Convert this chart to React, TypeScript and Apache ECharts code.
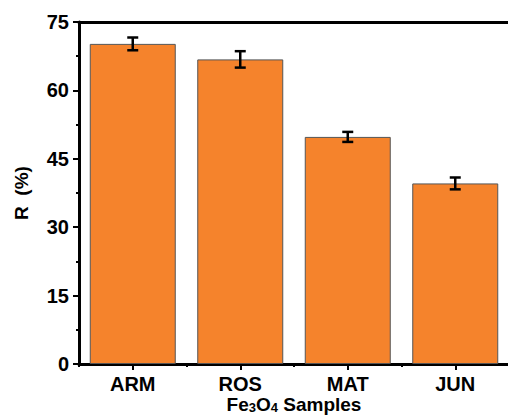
import React, { useEffect, useRef } from "react";
import * as echarts from "echarts";

const categories = ["ARM", "ROS", "MAT", "JUN"];
const values = [70.2, 66.8, 49.8, 39.6];
const errors = [1.4, 1.8, 1.1, 1.3];
const yTicks = { min: 0, max: 75, interval: 15 };

export default function App() {
  const ref = useRef<HTMLDivElement>(null);
  useEffect(() => {
    if (!ref.current) return;
    const chart = echarts.init(ref.current, null, { renderer: "svg" });
    const font = "Liberation Sans, Arial, sans-serif";
    const errData = categories.map((c, i) => [i, values[i] - errors[i], values[i] + errors[i]]);
    chart.setOption({
      animation: false,
      backgroundColor: "#fff",
      grid: { left: 79, top: 22, right: -1, bottom: 51, outerBoundsMode: "none", containLabel: false },
      xAxis: [
        {
          type: "category",
          data: categories,
          position: "bottom",
          axisLine: { show: true, lineStyle: { color: "#000", width: 3 } },
          axisTick: { show: true, alignWithLabel: true, length: 6, lineStyle: { color: "#000", width: 2 } },
          axisLabel: { color: "#000", fontFamily: font, fontWeight: "bold", fontSize: 20, lineHeight: 20, margin: 10 },
          name: "Fe{sub|3}O{sub|4} Samples",
          nameLocation: "middle",
          nameMoveOverlap: false,
          nameGap: 31,
          nameTextStyle: {
            color: "#000",
            fontFamily: font,
            fontWeight: "bold",
            fontSize: 19,
            lineHeight: 19,
            verticalAlign: "top",
            rich: {
              sub: { fontFamily: font, fontWeight: "bold", fontSize: 13, lineHeight: 13, verticalAlign: "bottom", color: "#000" },
            },
          },
        },
        {
          type: "category",
          data: categories,
          position: "bottom",
          axisLine: { show: false },
          axisTick: { show: true, alignWithLabel: false, length: 3, lineStyle: { color: "#000", width: 2 } },
          axisLabel: { show: false },
        },
        {
          type: "category",
          data: categories,
          position: "top",
          axisLine: { show: true, lineStyle: { color: "#000", width: 3 } },
          axisTick: { show: false },
          axisLabel: { show: false },
        },
      ],
      yAxis: {
        type: "value",
        min: yTicks.min,
        max: yTicks.max,
        interval: yTicks.interval,
        name: "R  (%)",
        nameLocation: "middle",
        nameMoveOverlap: false,
        nameGap: 48,
        nameTextStyle: { color: "#000", fontFamily: font, fontWeight: "bold", fontSize: 19 },
        axisLine: { show: true, lineStyle: { color: "#000", width: 3 } },
        axisTick: { show: true, length: 6, lineStyle: { color: "#000", width: 2 } },
        minorTick: { show: true, splitNumber: 2, length: 3, lineStyle: { color: "#000", width: 2 } },
        splitLine: { show: false },
        axisLabel: { color: "#000", fontFamily: font, fontWeight: "bold", fontSize: 20, margin: 10 },
      },
      series: [
        {
          type: "bar",
          data: values,
          barWidth: "80%",
          itemStyle: { color: "#F5832C", borderColor: "#555", borderWidth: 1 },
        },
        {
          type: "custom",
          data: errData,
          z: 10,
          renderItem: (params: any, api: any) => {
            const x = api.value(0);
            const lo = api.coord([x, api.value(1)]);
            const hi = api.coord([x, api.value(2)]);
            const hw = 5.5;
            const st = { stroke: "#000", lineWidth: 2.5 };
            return {
              type: "group",
              children: [
                { type: "line", shape: { x1: lo[0], y1: lo[1], x2: hi[0], y2: hi[1] }, style: st },
                { type: "line", shape: { x1: lo[0] - hw, y1: lo[1], x2: lo[0] + hw, y2: lo[1] }, style: st },
                { type: "line", shape: { x1: hi[0] - hw, y1: hi[1], x2: hi[0] + hw, y2: hi[1] }, style: st },
              ],
            };
          },
        },
      ],
    });
    return () => chart.dispose();
  }, []);
  return <div ref={ref} style={{ position: "fixed", left: 0, top: 0, width: 508, height: 415 }} />;
}
